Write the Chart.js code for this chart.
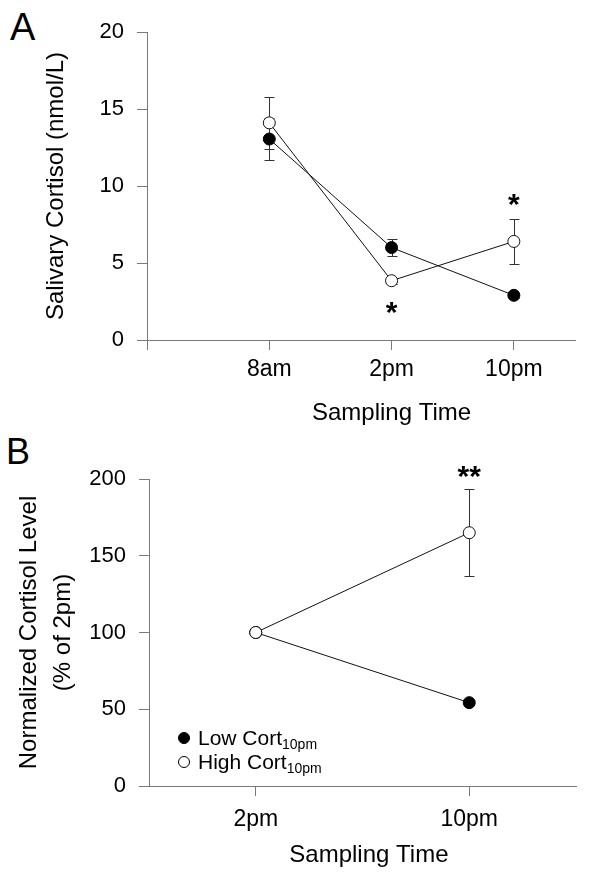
<!DOCTYPE html>
<html>
<head>
<meta charset="utf-8">
<script src="https://cdn.jsdelivr.net/npm/chart.js@4"></script>
<style>
  body { margin: 0; background: #fff; width: 600px; height: 881px; position: relative; overflow: hidden;
         font-family: "Liberation Sans", Arial, sans-serif; }
  .wrap { position: absolute; left: 0; width: 600px; }
  #wrapA { top: 0; height: 430px; }
  #wrapB { top: 430px; height: 451px; }
  .panel { position: absolute; color: #000; line-height: 1; }
</style>
</head>
<body>
<div class="panel" style="left:10px; top:8px; font-size:38px">A</div>
<div class="panel" style="left:6px; top:434px; font-size:36px">B</div>
<div class="wrap" id="wrapA"><canvas id="chartA"></canvas></div>
<div class="wrap" id="wrapB"><canvas id="chartB"></canvas></div>
<script>
//data - panel A
const timesA = ["8am", "2pm", "10pm"];
const lowA = [13.05, 6.0, 2.9];
const lowSemA = [1.35, 0.55, 0.15];
const highA = [14.1, 3.85, 6.4];
const highSemA = [1.7, 0.2, 1.45];
const starsA = [{ at: 1, y: 2.1, text: "*" }, { at: 2, y: 9.1, text: "*" }];

//data - panel B
const timesB = ["2pm", "10pm"];
const lowB = [100, 54.3];
const lowSemB = [0, 1.5];
const highB = [100, 165];
const highSemB = [0, 28.5];
const starsB = [{ at: 1, y: 204.8, text: "**" }];

const seriesNames = ["Low Cort", "High Cort"];
const seriesSub = "10pm";

//style
const FONT = "'Liberation Sans', Arial, sans-serif";
const axisColor = "#7a7a7a";
const inkColor = "#111";

const toPoints = (vals) => vals.map((v, i) => ({ x: i, y: v }));

const makeDatasets = (low, lowSem, high, highSem) => [
  {
    label: seriesNames[1],
    data: toPoints(high),
    errors: highSem,
    order: 0,
    borderColor: inkColor,
    borderWidth: 1,
    pointRadius: 6,
    pointBorderWidth: 1,
    pointBackgroundColor: "#fff",
    pointBorderColor: inkColor,
    tension: 0,
  },
  {
    label: seriesNames[0],
    data: toPoints(low),
    errors: lowSem,
    order: 1,
    borderColor: inkColor,
    borderWidth: 1,
    pointRadius: 6,
    pointBorderWidth: 1,
    pointBackgroundColor: "#000",
    pointBorderColor: "#000",
    tension: 0,
  },
];

//error bars under the markers
const errorBars = {
  id: "errorBars",
  beforeDatasetsDraw(chart) {
    const { ctx, scales: { x, y } } = chart;
    ctx.save();
    ctx.strokeStyle = "#333";
    ctx.lineWidth = 1;
    chart.data.datasets.forEach((ds) => {
      (ds.errors || []).forEach((e, i) => {
        if (!e) return;
        const pt = ds.data[i];
        const px = Math.round(x.getPixelForValue(pt.x)) + 0.5;
        const top = Math.round(y.getPixelForValue(pt.y + e)) + 0.5;
        const bot = Math.round(y.getPixelForValue(pt.y - e)) + 0.5;
        ctx.beginPath();
        ctx.moveTo(px, top);
        ctx.lineTo(px, bot);
        ctx.moveTo(px - 5, top);
        ctx.lineTo(px + 5, top);
        ctx.moveTo(px - 5, bot);
        ctx.lineTo(px + 5, bot);
        ctx.stroke();
      });
    });
    ctx.restore();
  },
};

//significance stars, x axis title, legend
const extras = {
  id: "extras",
  afterDraw(chart, args, opts) {
    const { ctx, scales: { x, y }, chartArea } = chart;
    ctx.save();
    ctx.fillStyle = "#000";
    ctx.font = "bold 30px " + FONT;
    ctx.textAlign = "center";
    ctx.textBaseline = "alphabetic";
    (opts.stars || []).forEach((s) => {
      const m = ctx.measureText(s.text);
      const cy = y.getPixelForValue(s.y);
      const base = cy + (m.actualBoundingBoxAscent - m.actualBoundingBoxDescent) / 2;
      ctx.fillText(s.text, x.getPixelForValue(s.at), base);
    });
    if (opts.xTitle) {
      ctx.font = "24px " + FONT;
      const cx = x.getPixelForValue(opts.xTitle.at);
      ctx.fillText(opts.xTitle.text, cx, chartArea.bottom + opts.xTitle.offset);
    }
    if (opts.legend) {
      const lx = chartArea.left + 35;
      const rows = [
        { y: chartArea.bottom - 48, fill: "#000", name: seriesNames[0] },
        { y: chartArea.bottom - 24, fill: "#fff", name: seriesNames[1] },
      ];
      rows.forEach((r) => {
        ctx.beginPath();
        ctx.arc(lx, r.y, 5.5, 0, Math.PI * 2);
        ctx.fillStyle = r.fill;
        ctx.fill();
        ctx.lineWidth = 1;
        ctx.strokeStyle = "#000";
        ctx.stroke();
        ctx.fillStyle = "#000";
        ctx.textAlign = "left";
        ctx.font = "21px " + FONT;
        const base = r.y + 6.5;
        ctx.fillText(r.name, lx + 14, base);
        const w = ctx.measureText(r.name).width;
        ctx.font = "14px " + FONT;
        ctx.fillText(seriesSub, lx + 14 + w, base + 4);
      });
    }
    ctx.restore();
  },
};

const makeOptions = (cfg) => ({
  responsive: true,
  maintainAspectRatio: false,
  animation: false,
  events: [],
  layout: { padding: { top: cfg.top, right: cfg.right, left: 0, bottom: 0 } },
  plugins: {
    legend: { display: false },
    tooltip: { enabled: false },
    extras: { stars: cfg.stars, xTitle: cfg.xTitle, legend: cfg.legend },
  },
  scales: {
    x: {
      type: "linear",
      min: cfg.xMin,
      max: cfg.xMax,
      afterBuildTicks: (scale) => {
        scale.ticks = cfg.xTicks.map((v) => ({ value: v }));
      },
      afterFit: (scale) => {
        scale.height = cfg.xHeight;
      },
      ticks: {
        autoSkip: false,
        maxRotation: 0,
        color: "#000",
        padding: cfg.xPad,
        font: { family: FONT, size: 23 },
        callback: (v) => (v >= 0 && Number.isInteger(v) ? cfg.labels[v] : ""),
      },
      grid: { drawOnChartArea: false, drawTicks: true, tickLength: 10, color: axisColor },
      border: { display: true, color: axisColor },
    },
    y: {
      min: cfg.yMin,
      max: cfg.yMax,
      afterFit: (scale) => {
        scale.width = cfg.yWidth;
      },
      ticks: {
        stepSize: cfg.yStep,
        color: "#000",
        padding: 13,
        font: { family: FONT, size: 22 },
      },
      grid: { drawOnChartArea: false, drawTicks: true, tickLength: 10, color: axisColor },
      border: { display: true, color: axisColor },
      title: {
        display: true,
        text: cfg.yTitle,
        color: "#000",
        padding: { top: cfg.yTitlePad, bottom: 0 },
        font: { family: FONT, size: 24, lineHeight: cfg.yTitleLH },
      },
    },
  },
});

new Chart(document.getElementById("chartA"), {
  type: "line",
  data: { datasets: makeDatasets(lowA, lowSemA, highA, highSemA) },
  options: makeOptions({
    top: 32, right: 25, xHeight: 90, yWidth: 147,
    xMin: -1, xMax: 2.5, xTicks: [-1, 0, 1, 2], labels: timesA, xPad: 6,
    yMin: 0, yMax: 20, yStep: 5,
    yTitle: "Salivary Cortisol (nmol/L)", yTitlePad: 42, yTitleLH: 1.2,
    stars: starsA,
    xTitle: { text: "Sampling Time", at: 1, offset: 80 },
  }),
  plugins: [errorBars, extras],
});

new Chart(document.getElementById("chartB"), {
  type: "line",
  data: { datasets: makeDatasets(lowB, lowSemB, highB, highSemB) },
  options: makeOptions({
    top: 49, right: 24, xHeight: 95, yWidth: 149,
    xMin: -0.5, xMax: 1.5, xTicks: [0, 1], labels: timesB, xPad: 10,
    yMin: 0, yMax: 200, yStep: 50,
    yTitle: ["Normalized Cortisol Level", "(% of 2pm)"], yTitlePad: 12, yTitleLH: 1.44,
    stars: starsB,
    xTitle: { text: "Sampling Time", at: 0.53, offset: 76 },
    legend: true,
  }),
  plugins: [errorBars, extras],
});
</script>
</body>
</html>
